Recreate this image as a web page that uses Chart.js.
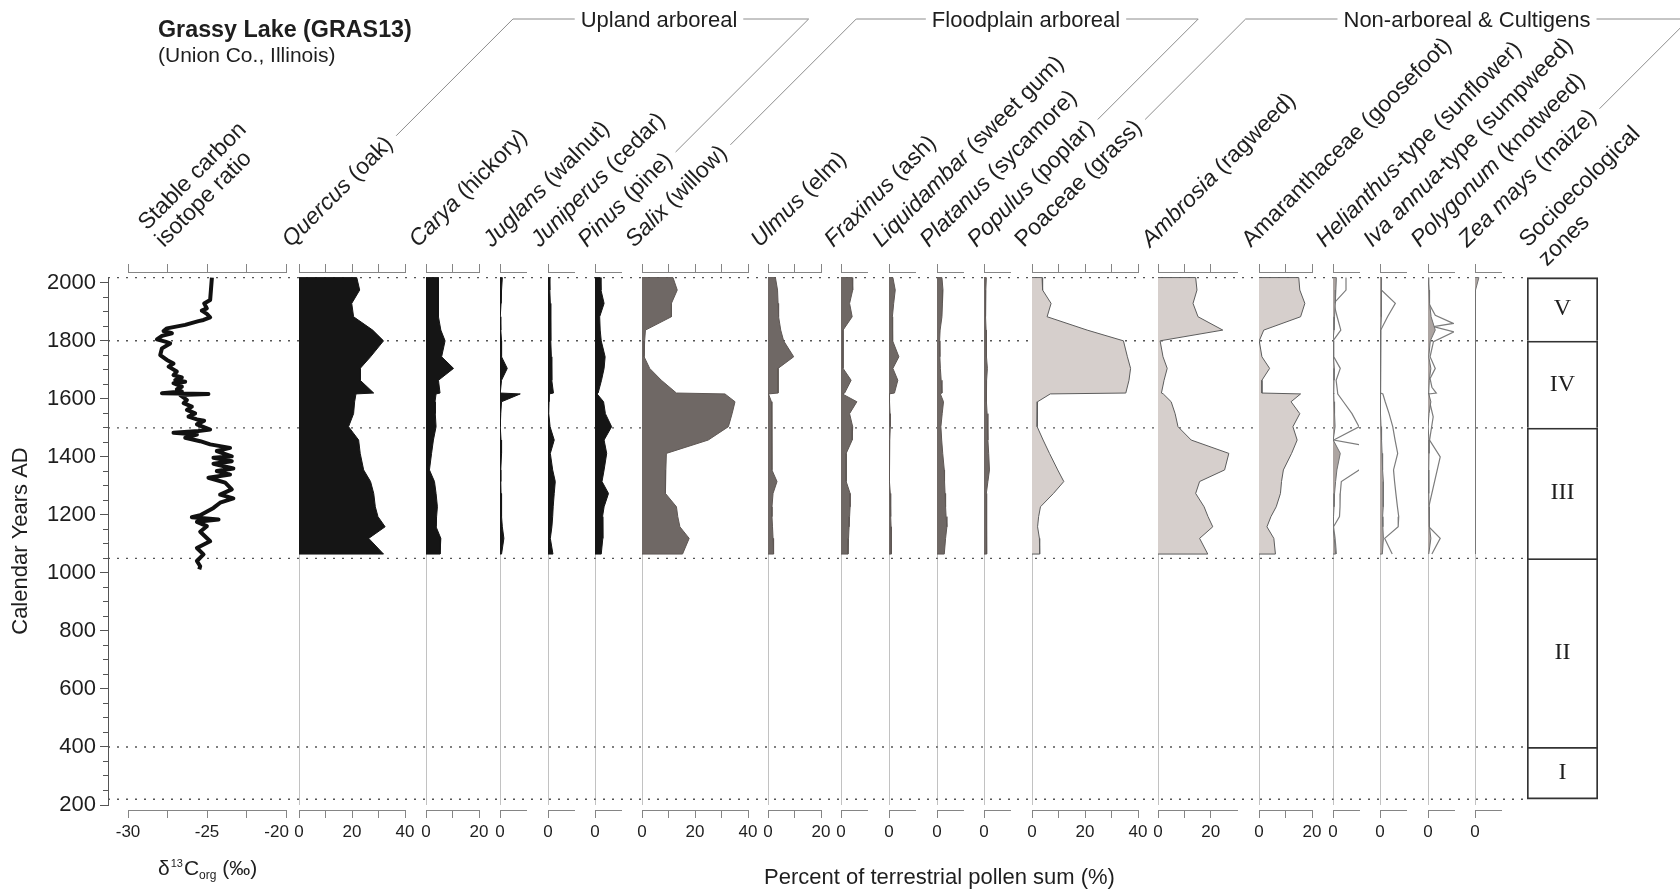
<!DOCTYPE html>
<html>
<head>
<meta charset="utf-8">
<title>Grassy Lake (GRAS13)</title>
<script src="https://cdn.jsdelivr.net/npm/chart.js@4.4.1/dist/chart.umd.min.js"></script>
<style>
  html, body { margin: 0; padding: 0; background: #fff; }
  #wrap { position: relative; width: 1680px; height: 891px; overflow: hidden; background: #fff; }
  #wrap canvas { position: absolute; }
</style>
</head>
<body>
<div id="wrap"></div>
<script>
// ---------- data ----------
const siteTitle = 'Grassy Lake (GRAS13)';
const siteSubtitle = '(Union Co., Illinois)';

const yearTicks = [200, 400, 600, 800, 1000, 1200, 1400, 1600, 1800, 2000];

// socioecological zones: boundaries (top -> bottom) and names
const zoneBounds = [2018, 1800, 1500, 1050, 400, 220];
const zoneNames = ['V', 'IV', 'III', 'II', 'I'];

// pollen sample ages (cal. yr AD)
const pollenYears = [2018, 1975, 1929, 1883, 1837, 1800, 1745, 1705, 1664, 1620, 1617, 1590,
                     1549, 1504, 1458, 1412, 1355, 1315, 1274, 1228, 1194, 1159, 1119, 1065];

// percent of terrestrial pollen sum
const quercus     = [21.8, 22.9, 19.9, 20.6, 27.8, 31.9, 27.0, 23.1, 23.1, 28.2, 21.5, 21.0, 20.6, 18.7, 22.5, 23.1, 24.4, 27.0, 28.2, 28.8, 29.8, 32.5, 26.3, 31.9];
const carya       = [4.7, 4.7, 4.7, 4.7, 5.6, 7.2, 5.9, 10.4, 4.7, 5.3, 3.8, 3.4, 3.5, 3.8, 2.8, 2.1, 1.3, 3.2, 3.8, 4.3, 4.0, 3.8, 5.6, 5.3];
const juglans     = [0.9, 0.6, 0.4, 0.1, 0.3, 0.6, 0.6, 2.8, 0.6, 0.1, 7.8, 0.6, 0.3, 0.1, 0.4, 0.6, 0.3, 0.3, 0.4, 0.6, 0.6, 0.9, 1.5, 0.6];
const juniperus   = [0.5, 0.7, 0.9, 1.0, 1.1, 1.1, 1.3, 1.4, 1.5, 2.1, 0.5, 0.4, 0.3, 0.8, 2.4, 0.9, 1.8, 2.8, 2.4, 2.0, 1.8, 1.5, 0.9, 1.9];
const pinus       = [2.0, 2.3, 3.5, 1.8, 2.0, 2.4, 3.9, 3.5, 2.5, 1.2, 0.8, 3.3, 4.0, 6.4, 3.5, 4.5, 3.5, 2.7, 5.2, 3.5, 2.9, 3.0, 3.0, 2.4];
const salix       = [11.7, 13.3, 11.1, 11.1, 1.3, 1.0, 0.8, 2.9, 7.3, 13.0, 31.3, 35.1, 34.0, 32.6, 25.0, 9.2, 9.0, 8.9, 8.8, 13.0, 13.5, 14.3, 17.8, 15.3];
const ulmus       = [2.8, 3.6, 3.8, 4.0, 4.8, 5.9, 9.7, 3.8, 3.8, 3.8, 0.2, 1.3, 1.4, 1.5, 1.5, 1.5, 1.5, 3.4, 1.9, 1.5, 1.5, 1.7, 1.9, 2.1];
const fraxinus    = [4.3, 4.5, 3.3, 4.3, 0.8, 0.8, 0.8, 0.8, 3.9, 1.4, 0.5, 6.1, 3.3, 4.5, 4.3, 2.0, 2.0, 2.0, 3.5, 3.5, 3.3, 3.1, 2.9, 2.7];
const liquidambar = [1.5, 2.4, 1.8, 1.3, 1.3, 1.5, 3.8, 1.5, 3.4, 2.1, 0.0, 0.2, 0.4, 0.5, 0.3, 0.0, 0.2, 0.3, 0.5, 0.6, 0.7, 0.8, 0.9, 0.9];
const platanus    = [1.9, 2.3, 2.1, 1.9, 1.2, 1.0, 1.1, 1.3, 1.6, 1.9, 1.3, 2.5, 2.0, 1.5, 1.8, 2.2, 2.8, 2.9, 3.1, 3.3, 3.5, 3.8, 3.3, 2.8];
const populus     = [0.9, 0.7, 0.6, 0.6, 0.8, 0.9, 1.0, 1.3, 1.0, 0.9, 0.9, 1.0, 1.2, 1.5, 1.5, 1.8, 2.1, 1.5, 0.9, 0.9, 1.0, 1.0, 1.1, 1.1];
const poaceae     = [3.8, 4.0, 7.2, 5.7, 20.8, 34.5, 36.0, 37.2, 36.6, 35.4, 6.9, 2.1, 2.0, 1.9, 4.2, 6.6, 9.7, 12.0, 8.1, 3.2, 2.5, 2.1, 2.8, 2.9];
const ambrosia    = [14.3, 14.8, 13.3, 15.2, 24.6, 0.8, 1.9, 3.5, 2.3, 1.3, 2.0, 5.0, 6.5, 7.6, 12.6, 26.9, 25.3, 15.8, 14.3, 17.5, 19.0, 20.8, 15.8, 18.9];
const amaranth    = [15.0, 15.4, 17.3, 15.7, 1.8, 0.1, 1.1, 4.0, 1.1, 1.1, 15.7, 12.1, 15.4, 12.8, 14.4, 12.3, 9.2, 8.5, 8.1, 6.5, 4.5, 3.0, 5.6, 6.2];
const helianthus  = [1.3, 1.1, 0.9, 0.6, 0.4, 0.0, 0.2, 0.5, 0.4, 0.3, 0.3, 0.4, 0.6, 0.8, 0.1, 2.8, 1.5, 1.0, 0.6, 0.4, 0.2, 0.0, 0.5, 1.0];
const iva         = [0.6, 0.6, 0.6, 0.4, 0.3, 0.3, 0.2, 0.2, 0.2, 0.2, 0.0, 0.1, 0.3, 0.4, 0.6, 0.8, 1.0, 1.3, 1.3, 1.2, 1.0, 1.1, 1.3, 0.9];
const polygonum   = [0.3, 0.4, 0.6, 1.2, 2.8, 0.9, 0.3, 1.1, 0.5, 0.3, 0.3, 1.1, 0.4, 0.0, 0.4, 0.4, 0.3, 0.3, 0.3, 0.4, 0.5, 0.6, 1.1, 0.3];
const zea         = [1.5, 0.2, 0.0, 0.0, 0.0, 0.0, 0.0, 0.0, 0.0, 0.0, 0.0, 0.0, 0.0, 0.0, 0.0, 0.0, 0.0, 0.0, 0.0, 0.0, 0.0, 0.0, 0.0, 0.0];

// exaggerated curves (thin lines) for the rare herbs
const helianthusExag = [5.0, 5.0, 0.3, 1.6, 3.0, 0.0, 0.3, 2.8, 1.2, 1.8, 1.8, 4.0, 7.3, 10.0, 0.3, 28.0, 10.0, 3.2, 2.8, 2.7, 2.5, 0.2, 0.8, 1.3];
const ivaExag        = [0.5, 0.5, 5.9, 2.9, 0.3, 0.2, 0.2, 0.2, 0.2, 0.2, 1.1, 2.0, 3.5, 4.9, 5.8, 6.8, 5.2, 5.6, 6.1, 6.7, 7.2, 7.0, 1.8, 4.7];
const polygonumExagYears = [2018, 1929, 1888, 1860, 1849, 1831, 1797, 1745, 1705, 1670, 1640, 1620, 1617, 1590, 1538, 1458, 1400, 1228, 1159, 1119, 1065];
const polygonumExag      = [0.0, 0.3, 2.8, 9.7, 2.1, 10.0, 2.1, 0.8, 2.8, 0.8, 1.5, 3.2, 0.3, 0.6, 2.0, 0.6, 4.7, 0.3, 0.3, 4.7, 1.5];

// stable carbon isotope ratio (d13C org, per mil)
const d13cYears = [2018, 1941, 1929, 1912, 1904, 1893, 1881, 1872, 1868, 1855, 1843, 1834, 1826, 1817, 1805, 1797, 1791, 1774, 1751, 1734,
                   1722, 1711, 1694, 1682, 1674, 1665, 1659, 1654, 1642, 1633, 1625, 1619, 1617, 1613, 1596, 1585, 1573, 1562, 1550, 1539,
                   1529, 1525, 1512, 1494, 1489, 1483, 1477, 1466, 1454, 1443, 1437, 1431, 1420, 1402, 1397, 1385, 1376, 1360, 1351, 1339,
                   1328, 1311, 1288, 1270, 1257, 1242, 1224, 1199, 1192, 1184, 1176, 1161, 1142, 1109, 1086, 1064, 1041, 1023, 1012];
const d13cValues = [-24.69, -24.80, -25.18, -25.01, -25.33, -25.01, -24.80, -25.22, -25.54, -26.38, -27.54, -27.75, -27.22, -27.85, -28.17, -27.64, -27.33, -27.85, -27.96, -27.54,
                    -27.12, -27.43, -26.91, -27.12, -26.59, -27.01, -26.38, -27.12, -26.59, -26.91, -26.59, -27.85, -24.91, -26.69, -26.27, -26.48, -25.96, -26.27, -25.75, -26.17,
                    -25.64, -25.18, -25.64, -24.80, -25.54, -27.12, -25.64, -26.38, -25.43, -24.80, -24.17, -23.54, -24.38, -23.43, -24.59, -23.43, -24.59, -23.33, -24.38, -23.54,
                    -24.91, -23.85, -23.43, -24.17, -23.33, -24.17, -24.59, -25.43, -25.96, -24.27, -25.64, -25.01, -25.43, -24.80, -25.64, -25.22, -25.64, -25.43, -25.49];

// ---------- layout ----------
const SANS = '"Liberation Sans", Arial, Helvetica, sans-serif';
const SERIF = '"Liberation Serif", "Times New Roman", serif';
const INK = '#1e1e1e';
const AXIS_COLOR = '#858585';

const Y_MIN = 200, Y_MAX = 2020;
const PLOT_TOP = 277, PLOT_BOTTOM = 805;
const AXIS_GAP = 5;            // panel axes sit a few px off the plot
const Y_AXIS_X = 108;
const ZONE_LEFT = 1527, ZONE_W = 71;
const PX_PER_PCT = 2.64;
const PAD_X = 30, TOP_H = 10, BOT_H = 40;
const LABEL_Y = 248, LABEL_DX = -8, LABEL_SIZE = 23;
const HEAD_BASE = 27, HEAD_LINE = 19;

const pxPerYear = (PLOT_BOTTOM - PLOT_TOP) / (Y_MAX - Y_MIN);
const yPad = AXIS_GAP / pxPerYear;

const styles = {
  upland: { fill: '#151515', line: '#151515' },
  flood:  { fill: '#6f6865', line: '#5e5754' },
  herb:   { fill: '#d6cfcc', line: '#5c5c5c' },
  minor:  { fill: '#aca4a1', line: '#707070' }
};

const T40 = [0, 10, 20, 30, 40], L40 = [0, 20, 40];
const T20 = [0, 10, 20], L20 = [0, 20];

const panels = [
  { key: 'quercus',     label: [['Quercus', 1], [' (oak)']],            x: 299,    max: 40, ticks: T40, labels: L40, values: quercus,     style: 'upland' },
  { key: 'carya',       label: [['Carya', 1], [' (hickory)']],          x: 426,    max: 20, ticks: T20, labels: L20, values: carya,       style: 'upland' },
  { key: 'juglans',     label: [['Juglans', 1], [' (walnut)']],         x: 500,    max: 10, ticks: [0], labels: [0], values: juglans,     style: 'upland' },
  { key: 'juniperus',   label: [['Juniperus', 1], [' (cedar)']],        x: 547.7,  max: 10, ticks: [0], labels: [0], values: juniperus,   style: 'upland' },
  { key: 'pinus',       label: [['Pinus', 1], [' (pine)']],             x: 594.7,  max: 10, ticks: [0], labels: [0], values: pinus,       style: 'upland' },
  { key: 'salix',       label: [['Salix', 1], [' (willow)']],           x: 642.3,  max: 40, ticks: T40, labels: L40, values: salix,       style: 'flood' },
  { key: 'ulmus',       label: [['Ulmus', 1], [' (elm)']],              x: 767.7,  max: 20, ticks: T20, labels: L20, values: ulmus,       style: 'flood' },
  { key: 'fraxinus',    label: [['Fraxinus', 1], [' (ash)']],           x: 841.3,  max: 10, ticks: [0], labels: [0], values: fraxinus,    style: 'flood' },
  { key: 'liquidambar', label: [['Liquidambar', 1], [' (sweet gum)']],  x: 889.3,  max: 10, ticks: [0], labels: [0], values: liquidambar, style: 'flood' },
  { key: 'platanus',    label: [['Platanus', 1], [' (sycamore)']],      x: 936.7,  max: 10, ticks: [0], labels: [0], values: platanus,    style: 'flood' },
  { key: 'populus',     label: [['Populus', 1], [' (poplar)']],         x: 984.3,  max: 10, ticks: [0], labels: [0], values: populus,     style: 'flood' },
  { key: 'poaceae',     label: [['Poaceae (grass)']],                   x: 1031.7, max: 40, ticks: T40, labels: L40, values: poaceae,     style: 'herb' },
  { key: 'ambrosia',    label: [['Ambrosia', 1], [' (ragweed)']],       x: 1158.3, max: 30, ticks: T20, labels: L20, values: ambrosia,    style: 'herb' },
  { key: 'amaranth',    label: [['Amaranthaceae (goosefoot)']],         x: 1258.7, max: 20, ticks: T20, labels: L20, values: amaranth,    style: 'herb' },
  { key: 'helianthus',  label: [['Helianthus', 1], ['-type (sunflower)']], x: 1332.7, max: 10, ticks: [0], labels: [0], values: helianthus, style: 'minor',
    exag: { years: pollenYears, values: helianthusExag } },
  { key: 'iva',         label: [['Iva annua', 1], ['-type (sumpweed)']],  x: 1380.3, max: 10, ticks: [0], labels: [0], values: iva,        style: 'minor',
    exag: { years: pollenYears, values: ivaExag } },
  { key: 'polygonum',   label: [['Polygonum', 1], [' (knotweed)']],     x: 1427.7, max: 10, ticks: [0], labels: [0], values: polygonum,   style: 'minor',
    exag: { years: polygonumExagYears, values: polygonumExag } },
  { key: 'zea',         label: [['Zea mays', 1], [' (maize)']],         x: 1475.3, max: 10, ticks: [0], labels: [0], values: zea,         style: 'minor' }
];

const groups = [
  { name: 'Upland arboreal',          from: 'quercus', to: 'pinus',   center: 659 },
  { name: 'Floodplain arboreal',      from: 'salix',   to: 'populus', center: 1026 },
  { name: 'Non-arboreal & Cultigens', from: 'poaceae', to: 'zea',     center: 1467 }
];

Chart.defaults.font.family = SANS;
Chart.defaults.color = INK;

const wrap = document.getElementById('wrap');

function addCanvas(left, top, w, h) {
  const c = document.createElement('canvas');
  c.width = Math.round(w);
  c.height = Math.round(h);
  c.style.left = left + 'px';
  c.style.top = top + 'px';
  c.style.width = c.width + 'px';
  c.style.height = c.height + 'px';
  wrap.appendChild(c);
  return c;
}

function drawParts(ctx, parts, size, x, y) {
  let u = x;
  parts.forEach(([txt, italic]) => {
    ctx.font = (italic ? 'italic ' : '') + size + 'px ' + SANS;
    ctx.fillText(txt, u, y);
    u += ctx.measureText(txt).width;
  });
  return u - x;
}

function rotatedLabel(ctx, parts, ax, ay) {
  ctx.save();
  ctx.translate(ax, ay);
  ctx.rotate(-Math.PI / 4);
  const len = drawParts(ctx, parts, LABEL_SIZE, 0, 0);
  ctx.restore();
  return len;
}

// line running on from the end of a slanted label up to the heading rule
function connector(e) {
  const c = Math.SQRT1_2, v = -5;
  const u0 = e.len + 8;
  const uTop = (e.ay + v * c - HEAD_LINE) / c;
  return [
    [e.ax + (u0 + v) * c, e.ay + (v - u0) * c],
    [e.ax + (uTop + v) * c, HEAD_LINE]
  ];
}

const annotations = {
  id: 'annotations',
  afterDraw(chart) {
    const ctx = chart.ctx;
    ctx.save();
    ctx.fillStyle = INK;
    ctx.textAlign = 'left';
    ctx.textBaseline = 'alphabetic';

    ctx.font = 'bold 23.3px ' + SANS;
    ctx.fillText(siteTitle, 158, 37);
    ctx.font = '21px ' + SANS;
    ctx.fillText(siteSubtitle, 158, 62);

    rotatedLabel(ctx, [['Stable carbon']], 147, LABEL_Y - 17);
    rotatedLabel(ctx, [['isotope ratio']], 164, LABEL_Y);
    const ends = {};
    panels.forEach(p => {
      const ax = p.x + LABEL_DX;
      ends[p.key] = { ax, ay: LABEL_Y, len: rotatedLabel(ctx, p.label, ax, LABEL_Y) };
    });
    rotatedLabel(ctx, [['Socioecological']], ZONE_LEFT + 1, LABEL_Y);
    rotatedLabel(ctx, [['zones']], ZONE_LEFT + 20, LABEL_Y + 19);

    ctx.strokeStyle = '#8c8c8c';
    ctx.lineWidth = 1;
    ctx.font = '22px ' + SANS;
    groups.forEach(g => {
      const w = ctx.measureText(g.name).width;
      const left = g.center - w / 2;
      ctx.fillText(g.name, left, HEAD_BASE);
      const a = connector(ends[g.from]);
      const b = connector(ends[g.to]);
      ctx.beginPath();
      ctx.moveTo(a[0][0], a[0][1]);
      ctx.lineTo(a[1][0], a[1][1]);
      ctx.lineTo(left - 6, HEAD_LINE);
      ctx.moveTo(left + w + 6, HEAD_LINE);
      ctx.lineTo(b[1][0], b[1][1]);
      ctx.lineTo(b[0][0], b[0][1]);
      ctx.stroke();
    });

    // axis captions
    let cx = 158;
    ctx.font = '21px ' + SANS; ctx.fillText('δ', cx, 875); cx += ctx.measureText('δ').width + 1;
    ctx.font = '11px ' + SANS; ctx.fillText('13', cx, 867); cx += ctx.measureText('13').width + 1;
    ctx.font = '21px ' + SANS; ctx.fillText('C', cx, 875); cx += ctx.measureText('C').width;
    ctx.font = '12px ' + SANS; ctx.fillText('org', cx, 879); cx += ctx.measureText('org').width;
    ctx.font = '21px ' + SANS; ctx.fillText(' (‰)', cx, 875);

    ctx.font = '22px ' + SANS;
    ctx.fillText('Percent of terrestrial pollen sum (%)', 764, 884);
    ctx.restore();
  }
};

// ---------- background: year axis + zone dotted lines ----------
new Chart(addCanvas(0, 0, 1680, 891), {
  type: 'line',
  data: {
    datasets: zoneBounds.map(yr => ({
      data: [{ x: 0, y: yr }, { x: 1, y: yr }],
      borderColor: '#555', borderWidth: 1.4, borderDash: [2, 7],
      pointRadius: 0, fill: false
    }))
  },
  options: {
    responsive: false, animation: false, devicePixelRatio: 1,
    layout: { padding: { left: 0, right: 1680 - ZONE_LEFT, top: PLOT_TOP, bottom: 891 - PLOT_BOTTOM }, autoPadding: false },
    plugins: { legend: { display: false }, tooltip: { enabled: false } },
    scales: {
      x: { type: 'linear', display: false, min: 0, max: 1 },
      y: {
        type: 'linear', position: 'left', min: Y_MIN, max: Y_MAX, weight: 1,
        afterBuildTicks: s => { s.ticks = yearTicks.map(v => ({ value: v })); },
        afterFit: s => { s.width = Y_AXIS_X; },
        grid: { drawOnChartArea: false, tickLength: 8, color: '#555' },
        border: { color: '#555' },
        ticks: { font: { size: 22 }, color: INK, padding: 4, callback: v => String(v) },
        title: { display: true, text: 'Calendar Years AD', font: { size: 22 }, color: INK, padding: { top: 8, bottom: 0 } }
      },
      yMinor: {
        axis: 'y', type: 'linear', position: 'left', min: Y_MIN, max: Y_MAX, weight: 0,
        afterBuildTicks: s => {
          const t = [];
          for (let v = Y_MIN; v <= 2000; v += 50) t.push({ value: v });
          s.ticks = t;
        },
        afterFit: s => { s.width = 0; },
        grid: { drawOnChartArea: false, tickLength: 5, color: '#555' },
        border: { display: false },
        ticks: { display: false }
      }
    }
  },
  plugins: [annotations]
});

// ---------- one small chart per column ----------
function panelAxis(p, position) {
  const bottom = position === 'bottom';
  return {
    axis: 'x', type: 'linear', position, min: p.min, max: p.max,
    afterBuildTicks: s => { s.ticks = p.ticks.map(v => ({ value: v })); },
    afterFit: s => { s.height = bottom ? BOT_H : TOP_H; },
    grid: { drawOnChartArea: false, tickLength: 8, color: AXIS_COLOR },
    border: { color: AXIS_COLOR },
    ticks: {
      display: bottom, autoSkip: false, maxRotation: 0, minRotation: 0, padding: 4,
      font: { size: 17 }, color: INK,
      callback: v => p.labels.includes(v) ? (p.labelText ? p.labelText(v) : String(v)) : ''
    }
  };
}

function panelChart(p, datasets) {
  const w = (p.max - p.min) * p.px;
  const h = TOP_H + (PLOT_BOTTOM - PLOT_TOP) + 2 * AXIS_GAP + BOT_H;
  const canvas = addCanvas(p.x - PAD_X, PLOT_TOP - AXIS_GAP - TOP_H, w + 2 * PAD_X, h);
  return new Chart(canvas, {
    type: 'line',
    data: { datasets },
    options: {
      indexAxis: 'y',
      responsive: false, animation: false, devicePixelRatio: 1,
      layout: { padding: { left: PAD_X, right: PAD_X, top: 0, bottom: 0 }, autoPadding: false },
      plugins: { legend: { display: false }, tooltip: { enabled: false } },
      elements: { point: { radius: 0 }, line: { tension: 0 } },
      scales: {
        y: { type: 'linear', display: false, min: Y_MIN - yPad, max: Y_MAX + yPad },
        x: panelAxis(p, 'bottom'),
        xTop: panelAxis(p, 'top')
      }
    }
  });
}

// isotope column
panelChart(
  { x: 128.3, min: -30, max: -20, px: 15.84, ticks: [-30, -27.5, -25, -22.5, -20], labels: [-30, -25, -20],
    labelText: v => v === -20 ? '-20\u2007\u2007' : String(v) },
  [{
    data: d13cYears.map((y, i) => ({ x: d13cValues[i], y })),
    borderColor: '#111', borderWidth: 4, borderJoinStyle: 'round', fill: false,
    xAxisID: 'x', yAxisID: 'y'
  }]
);

// pollen columns
panels.forEach(p => {
  const st = styles[p.style];
  const pts = pollenYears.map((y, i) => ({ x: p.values[i], y }));
  const last = pollenYears[pollenYears.length - 1];
  const datasets = [
    {
      data: [{ x: 0, y: pollenYears[0] }, ...pts, { x: 0, y: last }],
      fill: 'origin', backgroundColor: st.fill, borderColor: st.line, borderWidth: 1,
      xAxisID: 'x', yAxisID: 'y'
    },
    {
      data: [{ x: 0, y: Y_MIN }, { x: 0, y: pollenYears[0] }],
      borderColor: AXIS_COLOR, borderWidth: 1, fill: false,
      xAxisID: 'x', yAxisID: 'y'
    }
  ];
  if (p.exag) {
    datasets.push({
      data: p.exag.years.map((y, i) => ({ x: p.exag.values[i], y })),
      borderColor: '#7c7c7c', borderWidth: 1.2, fill: false,
      xAxisID: 'x', yAxisID: 'y'
    });
  }
  panelChart({ x: p.x, min: 0, max: p.max, px: PX_PER_PCT, ticks: p.ticks, labels: p.labels }, datasets);
});

// ---------- socioecological zones ----------
const zoneLabels = {
  id: 'zoneLabels',
  afterDatasetsDraw(chart) {
    const ctx = chart.ctx;
    ctx.save();
    ctx.font = '24px ' + SERIF;
    ctx.fillStyle = INK;
    ctx.textAlign = 'center';
    ctx.textBaseline = 'middle';
    chart.data.datasets.forEach((ds, i) => {
      const bar = chart.getDatasetMeta(i).data[0];
      const { x, y, base } = bar.getProps(['x', 'y', 'base'], true);
      ctx.fillText(ds.label, x, (y + base) / 2);
    });
    ctx.restore();
  }
};

new Chart(addCanvas(ZONE_LEFT - 10, PLOT_TOP - 10, ZONE_W + 20, PLOT_BOTTOM - PLOT_TOP + 20), {
  type: 'bar',
  data: {
    labels: ['zones'],
    datasets: zoneNames.map((name, i) => ({
      label: name,
      data: [[zoneBounds[i + 1], zoneBounds[i]]],
      backgroundColor: '#fff', borderColor: '#333', borderWidth: 2,
      borderSkipped: i === zoneNames.length - 1 ? false : 'bottom',
      grouped: false, barPercentage: 1, categoryPercentage: 1
    }))
  },
  options: {
    responsive: false, animation: false, devicePixelRatio: 1,
    layout: { padding: 10, autoPadding: false },
    plugins: { legend: { display: false }, tooltip: { enabled: false } },
    scales: {
      x: { display: false },
      y: { display: false, min: Y_MIN, max: Y_MAX }
    }
  },
  plugins: [zoneLabels]
});
</script>
</body>
</html>
